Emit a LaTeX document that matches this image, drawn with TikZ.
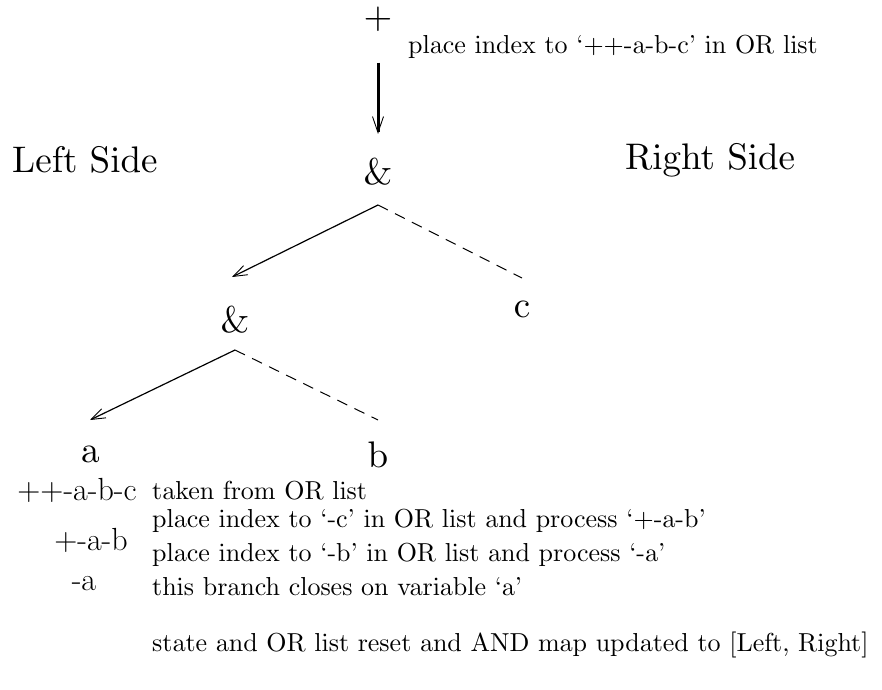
\documentclass[tikz,border=0pt]{standalone}
\usetikzlibrary{arrows.meta}
\font\treefont=cmr10 at 37pt
\font\notefont=cmr10 at 26pt
\tikzset{
    big label/.style={inner sep=0pt, font=\treefont},
    note label/.style={inner sep=0pt, anchor=west, font=\notefont},
    form label/.style={inner sep=0pt, font=\fontsize{32}{36}\selectfont},
    down arrow/.style={line width=3pt,
        -{Straight Barb[line width=0.9pt, length=16pt, width=11pt]}},
    left branch/.style={line width=1.2pt,
        -{Straight Barb[line width=0.9pt, length=14pt, width=10pt]}},
    right branch/.style={line width=1pt, dash pattern=on 11pt off 8pt}
}

\begin{document}
\begin{tikzpicture}[x=1pt, y=-1pt]
                \useasboundingbox (0,0) rectangle (882,689);
                % tree
                \node[big label] (plus) at (378, 19) {+};
                \node[big label] (andtop) at (378, 172) {\&};
                \node[big label] (andmid) at (235, 320) {\&};
                \node[big label] (leafc) at (522, 310) {c};
                \node[big label] (leafa) at (90, 455) {a};
                \node[big label] (leafb) at (378, 455) {b};
                \node[big label, anchor=west] (lside) at (12, 160) {Left Side};
                \node[big label, anchor=west] (rside) at (625, 160) {Right Side};
                \node[note label] (topnote) at (408, 47) {place index to `++-a-b-c' in OR list};
                \coordinate (fork1) at (378, 205);
                \coordinate (tip1) at (232, 277);
                \coordinate (end1) at (522, 278);
                \coordinate (fork2) at (235, 350);
                \coordinate (tip2) at (90, 420);
                \coordinate (end2) at (378, 420);
                \draw[down arrow, shorten <=31pt, shorten >=25pt] (plus) -- (andtop);
                \draw[left branch] (fork1) -- (tip1);
                \draw[right branch] (fork1) -- (end1);
                \draw[left branch] (fork2) -- (tip2);
                \draw[right branch] (fork2) -- (end2);
                % trace
                \node[form label] (f1) at (77, 490) {++-a-b-c};
                \node[form label] (f2) at (91, 540) {+-a-b};
                \node[form label] (f3) at (84, 584) {-a};
                \node[note label] (n1) at (152, 490) {taken from OR list};
                \node[note label] (n2) at (152, 521) {place index to `-c' in OR list and process `+-a-b'};
                \node[note label] (n3) at (152, 555) {place index to `-b' in OR list and process `-a'};
                \node[note label] (n4) at (152, 586) {this branch closes on variable `a'};
                \node[note label] (n5) at (152, 645) {state and OR list reset and AND map updated to [Left, Right]};
            \end{tikzpicture}
\end{document}
